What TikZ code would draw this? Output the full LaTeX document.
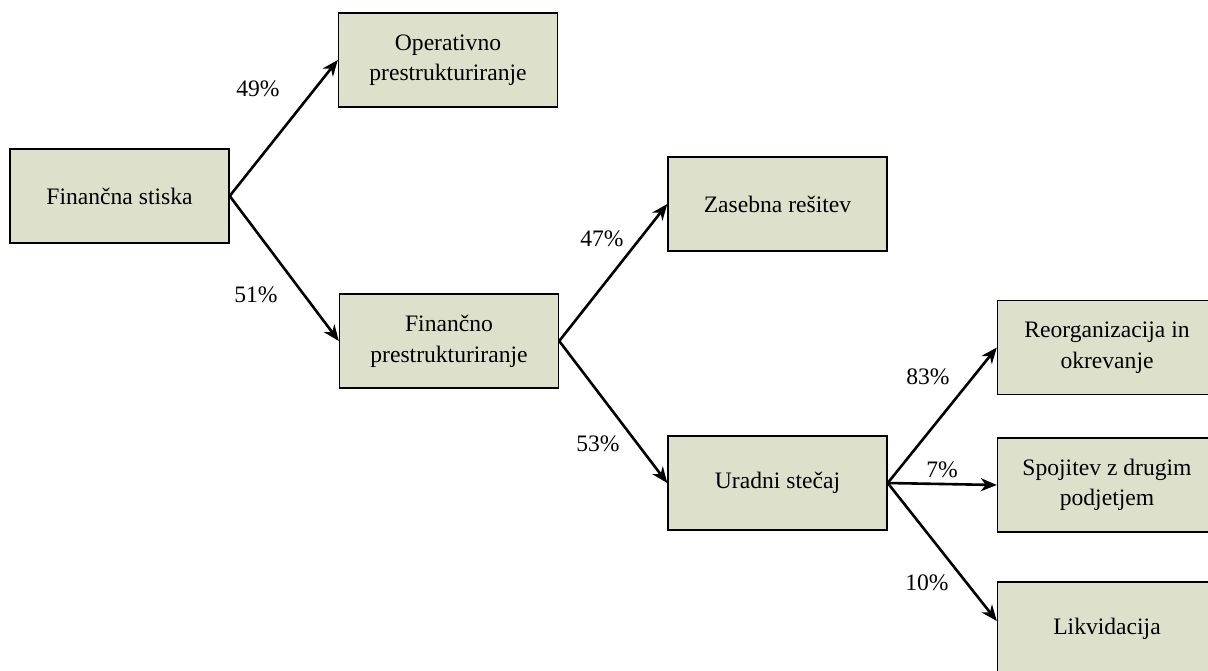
\documentclass[tikz,border=0pt]{standalone}
\usepackage{fontspec}
\setmainfont{Liberation Serif}
\usetikzlibrary{arrows.meta}
\definecolor{boxfill}{RGB}{221,224,203}
\tikzset{
  box/.style={draw=black, line width=0.7pt, fill=boxfill, inner sep=0pt,
    minimum width=109.5pt, minimum height=47pt, align=center,
    font=\fontsize{11.8pt}{15.3pt}\selectfont},
  conn/.style={line width=1.3pt, -{Stealth[length=8pt, width=6.5pt, inset=2.5pt]}},
  pct/.style={inner sep=0pt, font=\fontsize{11.8pt}{14pt}\selectfont}
}
\begin{document}
\begin{tikzpicture}[x=0.5pt, y=-0.5pt]
\useasboundingbox (0,0) rectangle (1208,670);
\clip (0,0) rectangle (1208,670);
\node[box] (A) at (119.5,196) {Finančna stiska};
\node[box] (B) at (448,60) {Operativno\\prestrukturiranje};
\node[box] (C) at (449,341) {Finančno\\prestrukturiranje};
\node[box] (D) at (777.5,204) {Zasebna rešitev};
\node[box] (E) at (777.5,483) {Uradni stečaj};
\node[box] (F) at (1107,347.5) {Reorganizacija in\\okrevanje};
\node[box] (G) at (1107,485) {Spojitev z drugim\\podjetjem};
\node[box] (H) at (1107,629) {Likvidacija};
\coordinate (Hin) at ([yshift=4pt]H.west);

\draw[conn] (A.east) -- (B.west);
\draw[conn] (A.east) -- (C.west);
\draw[conn] (C.east) -- (D.west);
\draw[conn] (C.east) -- (E.west);
\draw[conn] (E.east) -- (F.west);
\draw[conn] (E.east) -- (G.west);
\draw[conn] (E.east) -- (Hin);

\node[pct] (l49) at (258,89) {49\%};
\node[pct] (l51) at (256,295) {51\%};
\node[pct] (l47) at (602,239) {47\%};
\node[pct] (l53) at (598,444) {53\%};
\node[pct] (l83) at (928,377) {83\%};
\node[pct] (l7) at (942,470) {7\%};
\node[pct] (l10) at (927,583) {10\%};
\end{tikzpicture}
\end{document}
